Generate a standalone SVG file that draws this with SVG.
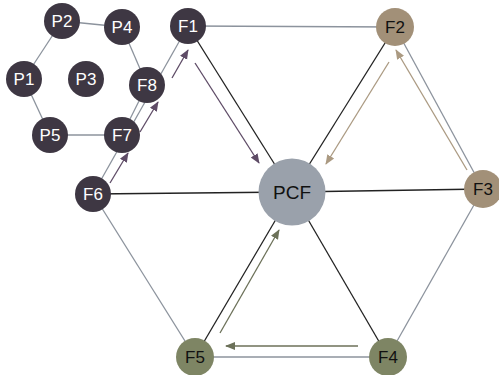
<svg xmlns="http://www.w3.org/2000/svg" width="499" height="375" viewBox="0 0 499 375">
<defs>
<style>
.g{stroke:#8c939d;stroke-width:1.3;fill:none}
.k{stroke:#222;stroke-width:1.3;fill:none}
.dk{fill:#3e3743}
.tn{fill:#a29078}
.ol{fill:#7e8564}
.pc{fill:#9aa1ab}
text{font-family:"Liberation Sans",Arial,sans-serif;font-size:17px;text-anchor:middle;dominant-baseline:central}
.w{fill:#fff}
.b{fill:#111}
.ap{stroke:#5e4b66;stroke-width:1.3;fill:none}
.at{stroke:#ab9a82;stroke-width:1.3;fill:none}
.ao{stroke:#6c7159;stroke-width:1.3;fill:none}
</style>
<marker id="mp" markerWidth="10" markerHeight="10" refX="9" refY="5" orient="auto" markerUnits="userSpaceOnUse"><path d="M0,1 L10,5 L0,9 z" fill="#5e4b66"/></marker>
<marker id="mt" markerWidth="10" markerHeight="10" refX="9" refY="5" orient="auto" markerUnits="userSpaceOnUse"><path d="M0,1 L10,5 L0,9 z" fill="#ab9a82"/></marker>
<marker id="mo" markerWidth="10" markerHeight="10" refX="9" refY="5" orient="auto" markerUnits="userSpaceOnUse"><path d="M0,1 L10,5 L0,9 z" fill="#6c7159"/></marker>
</defs>
<g id="connectors">
<line class="g" x1="188" y1="26" x2="395" y2="27"/>
<line class="g" x1="395" y1="27" x2="483" y2="189"/>
<line class="g" x1="483" y1="189" x2="388" y2="357"/>
<line class="g" x1="388" y1="357" x2="195" y2="357"/>
<line class="g" x1="195" y1="357" x2="93" y2="194"/>
<line class="g" x1="93" y1="194" x2="188" y2="26"/>
<line class="g" x1="62" y1="21" x2="122" y2="27"/>
<line class="g" x1="122" y1="27" x2="147" y2="85"/>
<line class="g" x1="62" y1="21" x2="24" y2="79"/>
<line class="g" x1="24" y1="79" x2="50" y2="135"/>
<line class="g" x1="50" y1="135" x2="122" y2="135"/>
<line class="g" x1="122" y1="135" x2="147" y2="85"/>
<line class="k" x1="188" y1="26" x2="292" y2="192"/>
<line class="k" x1="395" y1="27" x2="292" y2="192"/>
<line class="k" x1="483" y1="189" x2="292" y2="192"/>
<line class="k" x1="93" y1="194" x2="292" y2="192"/>
<line class="k" x1="388" y1="357" x2="292" y2="192"/>
<line class="k" x1="195" y1="357" x2="292" y2="192"/>
<line class="ap" x1="110" y1="183" x2="128" y2="153" marker-end="url(#mp)"/>
<line class="ap" x1="140" y1="132" x2="158" y2="102" marker-end="url(#mp)"/>
<line class="ap" x1="172" y1="78" x2="188" y2="50" marker-end="url(#mp)"/>
<line class="ap" x1="195" y1="63" x2="259" y2="163" marker-end="url(#mp)"/>
<line class="at" x1="467" y1="170" x2="396" y2="50" marker-end="url(#mt)"/>
<line class="at" x1="389" y1="62" x2="326" y2="164" marker-end="url(#mt)"/>
<line class="ao" x1="220" y1="333" x2="279" y2="230" marker-end="url(#mo)"/>
<line class="ao" x1="358" y1="346" x2="226" y2="346" marker-end="url(#mo)"/>
</g>
<g id="P2"><circle class="dk" cx="62" cy="21" r="18"/><text class="w" x="62" y="21">P2</text></g>
<g id="P4"><circle class="dk" cx="122" cy="27" r="18"/><text class="w" x="122" y="27">P4</text></g>
<g id="P1"><circle class="dk" cx="24" cy="79" r="18"/><text class="w" x="24" y="79">P1</text></g>
<g id="P3"><circle class="dk" cx="86" cy="79" r="18"/><text class="w" x="86" y="79">P3</text></g>
<g id="P5"><circle class="dk" cx="50" cy="135" r="18"/><text class="w" x="50" y="135">P5</text></g>
<g id="F8"><circle class="dk" cx="147" cy="85" r="18"/><text class="w" x="147" y="85">F8</text></g>
<g id="F7"><circle class="dk" cx="122" cy="135" r="18"/><text class="w" x="122" y="135">F7</text></g>
<g id="F6"><circle class="dk" cx="93" cy="194" r="18"/><text class="w" x="93" y="194">F6</text></g>
<g id="F1"><circle class="dk" cx="188" cy="26" r="18"/><text class="w" x="188" y="26">F1</text></g>
<g id="F2"><circle class="tn" cx="395" cy="27" r="19"/><text class="b" x="395" y="27">F2</text></g>
<g id="F3"><circle class="tn" cx="483" cy="189" r="19"/><text class="b" x="483" y="189">F3</text></g>
<g id="F4"><circle class="ol" cx="388" cy="357" r="19"/><text class="b" x="388" y="357">F4</text></g>
<g id="F5"><circle class="ol" cx="195" cy="357" r="19"/><text class="b" x="195" y="357">F5</text></g>
<g id="PCF"><circle class="pc" cx="292" cy="192" r="33.5"/><text class="b" x="292" y="192" style="font-size:19px">PCF</text></g>
</svg>
